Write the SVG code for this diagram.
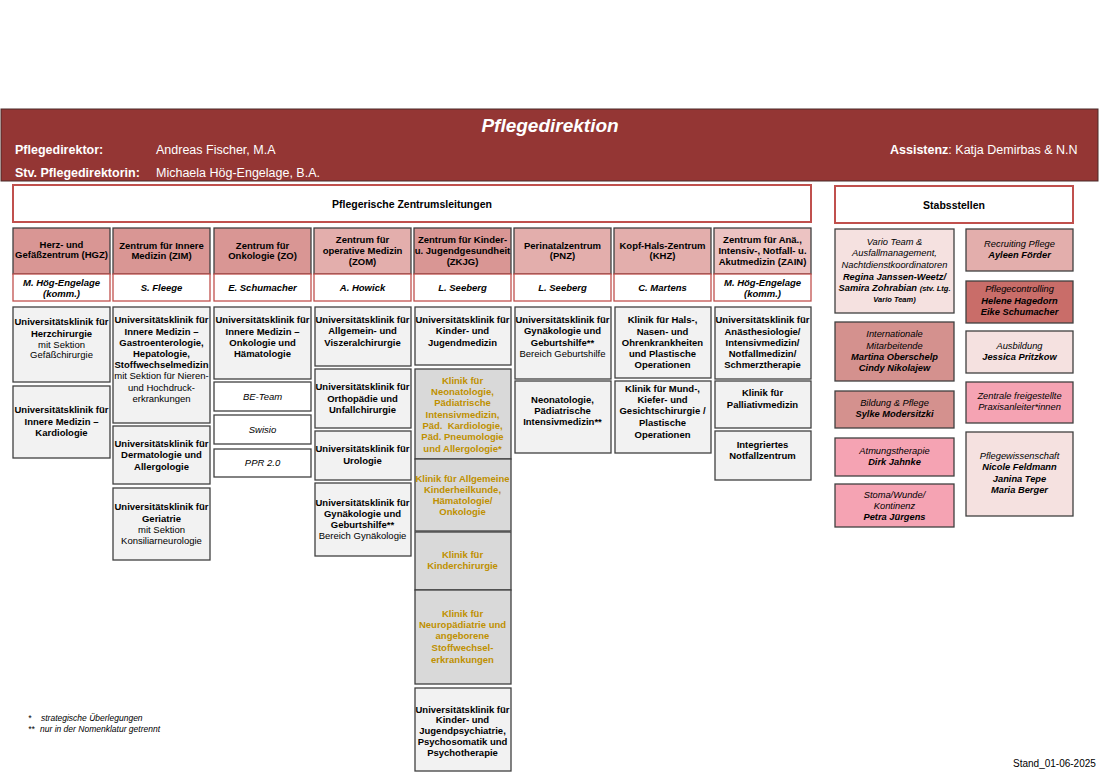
<svg xmlns="http://www.w3.org/2000/svg" width="1100" height="778" viewBox="0 0 1100 778">
<style>
text{font-family:'Liberation Sans',Arial,sans-serif;font-size:9.5px;text-anchor:middle;fill:#000}
.b{font-weight:bold}
.i{font-style:italic}
.bi{font-weight:bold;font-style:italic}
.g{fill:#bf9000;font-weight:bold}
.box{fill:#f2f2f2;stroke:#404040;stroke-width:1.3}
.gbox{fill:#d9d9d9;stroke:#404040;stroke-width:1.3}
.wbox{fill:#fff;stroke:#404040;stroke-width:1.3}
.hd1{fill:#d99694;stroke:#404040;stroke-width:1.3}
.hd2{fill:#e3aeac;stroke:#404040;stroke-width:1.3}
.hd3{fill:#ecc3c2;stroke:#404040;stroke-width:1.3}
.nm{fill:#fff;stroke:#c0504d;stroke-width:1.3}
.ttl{fill:#fff;stroke:#c0504d;stroke-width:2}
.s1{fill:#f5e1e0;stroke:#404040;stroke-width:1.3}
.s2{fill:#d4918e;stroke:#404040;stroke-width:1.3}
.s3{fill:#f5a3b3;stroke:#404040;stroke-width:1.3}
.s4{fill:#e3aeac;stroke:#404040;stroke-width:1.3}
.s5{fill:#c96d69;stroke:#404040;stroke-width:1.3}
.st{font-size:9.3px}
.w{fill:#fff;font-size:12.5px;text-anchor:start}
.fn{font-size:8.5px;font-style:italic;text-anchor:start}
</style>

<g id="pflegedirektion">
<rect x="1" y="109" width="1097" height="72" fill="#943634" stroke="#4a2a28" stroke-width="1"/>
<text x="550" y="132" style="fill:#fff;font-size:19px;font-weight:bold;font-style:italic">Pflegedirektion</text>
<text class="w b" x="15" y="154">Pflegedirektor:</text>
<text class="w" x="156" y="154">Andreas Fischer, M.A</text>
<text class="w b" x="15" y="177">Stv. Pflegedirektorin:</text>
<text class="w" x="156" y="177">Michaela Hög-Engelage, B.A.</text>
<text class="w" x="890" y="154"><tspan font-weight="bold">Assistenz</tspan>: Katja Demirbas &amp; N.N</text>
</g>

<g id="zentrumsleitungen">
<rect class="ttl" x="13" y="185" width="798" height="37"/>
<text class="b" x="412" y="208" style="font-size:10.5px">Pflegerische Zentrumsleitungen</text>
</g>

<g id="stabsstellen">
<rect class="ttl" x="835" y="186" width="238" height="37"/>
<text class="b" x="954" y="209" style="font-size:10.5px">Stabsstellen</text>
</g>

<g id="connectors"></g>

<!-- Column 1 HGZ -->
<g id="hgz">
<rect class="hd1" x="13" y="228" width="97" height="46"/>
<text class="b" x="61.5" y="247.7">Herz- und</text>
<text class="b" x="61.5" y="258.4">Gefäßzentrum (HGZ)</text>
<rect class="nm" x="13" y="274" width="97" height="27"/>
<text class="bi" x="61.5" y="285.7">M. Hög-Engelage</text>
<text class="bi" x="61.5" y="296.7">(komm.)</text>
</g>
<g id="hgz-herzchirurgie">
<rect class="box" x="13" y="307" width="97" height="75"/>
<text class="b" x="61.5" y="325.1">Universitätsklinik für</text>
<text class="b" x="61.5" y="336.7">Herzchirurgie</text>
<text x="61.5" y="347.7">mit Sektion</text>
<text x="61.5" y="358.4">Gefäßchirurgie</text>
</g>
<g id="hgz-kardiologie">
<rect class="box" x="13" y="386" width="97" height="72"/>
<text class="b" x="61.5" y="413.4">Universitätsklinik für</text>
<text class="b" x="61.5" y="425.1">Innere Medizin –</text>
<text class="b" x="61.5" y="436.1">Kardiologie</text>
</g>

<!-- Column 2 ZIM -->
<g id="zim">
<rect class="hd1" x="113" y="228" width="97" height="46"/>
<text class="b" x="161.5" y="249.1">Zentrum für Innere</text>
<text class="b" x="161.5" y="259.1">Medizin (ZIM)</text>
<rect class="nm" x="113" y="274" width="97" height="27"/>
<text class="bi" x="161.5" y="291.1">S. Fleege</text>
</g>
<g id="zim-innere">
<rect class="box" x="113" y="307" width="97" height="116"/>
<text class="b" x="161.5" y="323.4">Universitätsklinik für</text>
<text class="b" x="161.5" y="335.1">Innere Medizin –</text>
<text class="b" x="161.5" y="346.1">Gastroenterologie,</text>
<text class="b" x="161.5" y="357.4">Hepatologie,</text>
<text class="b" x="161.5" y="368.4">Stoffwechselmedizin</text>
<text x="161.5" y="379.4">mit Sektion für Nieren-</text>
<text x="161.5" y="390.7">und Hochdruck-</text>
<text x="161.5" y="402.4">erkrankungen</text>
</g>
<g id="zim-dermatologie">
<rect class="box" x="113" y="426" width="97" height="58"/>
<text class="b" x="161.5" y="447.4">Universitätsklinik für</text>
<text class="b" x="161.5" y="458.4">Dermatologie und</text>
<text class="b" x="161.5" y="470.1">Allergologie</text>
</g>
<g id="zim-geriatrie">
<rect class="box" x="113" y="488" width="97" height="72"/>
<text class="b" x="161.5" y="510.1">Universitätsklinik für</text>
<text class="b" x="161.5" y="521.7">Geriatrie</text>
<text x="161.5" y="532.7">mit Sektion</text>
<text x="161.5" y="544.1">Konsiliarneurologie</text>
</g>

<!-- Column 3 ZO -->
<g id="zo">
<rect class="hd1" x="214" y="228" width="97" height="46"/>
<text class="b" x="262.5" y="249.1">Zentrum für</text>
<text class="b" x="262.5" y="259.1">Onkologie (ZO)</text>
<rect class="nm" x="214" y="274" width="97" height="27"/>
<text class="bi" x="262.5" y="291.1">E. Schumacher</text>
</g>
<g id="zo-onkologie">
<rect class="box" x="214" y="307" width="97" height="72"/>
<text class="b" x="262.5" y="323.4">Universitätsklinik für</text>
<text class="b" x="262.5" y="335.1">Innere Medizin –</text>
<text class="b" x="262.5" y="346.1">Onkologie und</text>
<text class="b" x="262.5" y="357.4">Hämatologie</text>
</g>
<g id="zo-beteam">
<rect class="wbox" x="214" y="382" width="97" height="29"/>
<text class="i" x="262.5" y="400.1">BE-Team</text>
</g>
<g id="zo-swisio">
<rect class="wbox" x="214" y="415" width="97" height="29"/>
<text class="i" x="262.5" y="432.7">Swisio</text>
</g>
<g id="zo-ppr">
<rect class="wbox" x="214" y="449" width="97" height="28"/>
<text class="i" x="262.5" y="466.1">PPR 2.0</text>
</g>

<!-- Column 4 ZOM -->
<g id="zom">
<rect class="hd2" x="314" y="228" width="97" height="46"/>
<text class="b" x="362.5" y="243.4">Zentrum für</text>
<text class="b" x="362.5" y="254.1">operative Medizin</text>
<text class="b" x="362.5" y="265.1">(ZOM)</text>
<rect class="nm" x="314" y="274" width="97" height="27"/>
<text class="bi" x="362.5" y="291.1">A. Howick</text>
</g>
<g id="zom-allgemein">
<rect class="box" x="315" y="307" width="96" height="59"/>
<text class="b" x="362.5" y="323.4">Universitätsklinik für</text>
<text class="b" x="362.5" y="334.1">Allgemein- und</text>
<text class="b" x="362.5" y="345.7">Viszeralchirurgie</text>
</g>
<g id="zom-orthopaedie">
<rect class="box" x="315" y="369" width="96" height="59"/>
<text class="b" x="362.5" y="390.1">Universitätsklinik für</text>
<text class="b" x="362.5" y="401.7">Orthopädie und</text>
<text class="b" x="362.5" y="412.7">Unfallchirurgie</text>
</g>
<g id="zom-urologie">
<rect class="box" x="315" y="431" width="96" height="49"/>
<text class="b" x="362.5" y="452.4">Universitätsklinik für</text>
<text class="b" x="362.5" y="464.1">Urologie</text>
</g>
<g id="zom-gynaekologie">
<rect class="box" x="315" y="483" width="96" height="73"/>
<text class="b" x="362.5" y="505.7">Universitätsklinik für</text>
<text class="b" x="362.5" y="516.7">Gynäkologie und</text>
<text class="b" x="362.5" y="528.4">Geburtshilfe**</text>
<text x="362.5" y="539.4">Bereich Gynäkologie</text>
</g>

<!-- Column 5 ZKJG -->
<g id="zkjg">
<rect class="hd1" x="414" y="228" width="97" height="46"/>
<text class="b" x="462.5" y="243.4">Zentrum für Kinder-</text>
<text class="b" x="462.5" y="254.1">u. Jugendgesundheit</text>
<text class="b" x="462.5" y="265.1">(ZKJG)</text>
<rect class="nm" x="414" y="274" width="97" height="27"/>
<text class="bi" x="462.5" y="291.1">L. Seeberg</text>
</g>
<g id="zkjg-kinder">
<rect class="box" x="415" y="307" width="96" height="58"/>
<text class="b" x="462.5" y="323.4">Universitätsklinik für</text>
<text class="b" x="462.5" y="334.1">Kinder- und</text>
<text class="b" x="462.5" y="345.7">Jugendmedizin</text>
</g>
<g id="zkjg-neonatologie">
<rect class="gbox" x="415" y="369" width="96" height="90"/>
<text class="g" x="462.5" y="384.1">Klinik für</text>
<text class="g" x="462.5" y="395.1">Neonatologie,</text>
<text class="g" x="462.5" y="406.1">Pädiatrische</text>
<text class="g" x="462.5" y="417.7">Intensivmedizin,</text>
<text class="g" x="462.5" y="429.1" xml:space="preserve">Päd.  Kardiologie,</text>
<text class="g" x="462.5" y="440.1">Päd. Pneumologie</text>
<text class="g" x="462.5" y="451.7">und Allergologie*</text>
</g>
<g id="zkjg-allgemeine">
<rect class="gbox" x="415" y="459" width="96" height="72"/>
<text class="g" x="462.5" y="482.4">Klinik für Allgemeine</text>
<text class="g" x="462.5" y="492.7">Kinderheilkunde,</text>
<text class="g" x="462.5" y="504.4">Hämatologie/</text>
<text class="g" x="462.5" y="515.1">Onkologie</text>
</g>
<g id="zkjg-kinderchirurgie">
<rect class="gbox" x="415" y="532" width="96" height="58"/>
<text class="g" x="462.5" y="558.4">Klinik für</text>
<text class="g" x="462.5" y="569.4">Kinderchirurgie</text>
</g>
<g id="zkjg-neuropaediatrie">
<rect class="gbox" x="415" y="590" width="96" height="94"/>
<text class="g" x="462.5" y="617.4">Klinik für</text>
<text class="g" x="462.5" y="628.4">Neuropädiatrie und</text>
<text class="g" x="462.5" y="639.1">angeborene</text>
<text class="g" x="462.5" y="651.1">Stoffwechsel-</text>
<text class="g" x="462.5" y="662.7">erkrankungen</text>
</g>
<g id="zkjg-psychiatrie">
<rect class="box" x="415" y="688" width="96" height="83"/>
<text class="b" x="462.5" y="712.7">Universitätsklinik für</text>
<text class="b" x="462.5" y="723.4">Kinder- und</text>
<text class="b" x="462.5" y="734.4">Jugendpsychiatrie,</text>
<text class="b" x="462.5" y="745.1">Psychosomatik und</text>
<text class="b" x="462.5" y="755.7">Psychotherapie</text>
</g>

<!-- Column 6 PNZ -->
<g id="pnz">
<rect class="hd2" x="514" y="228" width="97" height="46"/>
<text class="b" x="562.5" y="249.1">Perinatalzentrum</text>
<text class="b" x="562.5" y="259.1">(PNZ)</text>
<rect class="nm" x="514" y="274" width="97" height="27"/>
<text class="bi" x="562.5" y="291.1">L. Seeberg</text>
</g>
<g id="pnz-gynaekologie">
<rect class="box" x="515" y="307" width="96" height="72"/>
<text class="b" x="562.5" y="323.4">Universitätsklinik für</text>
<text class="b" x="562.5" y="334.1">Gynäkologie und</text>
<text class="b" x="562.5" y="345.7">Geburtshilfe**</text>
<text x="562.5" y="356.7">Bereich Geburtshilfe</text>
</g>
<g id="pnz-neonatologie">
<rect class="box" x="515" y="381" width="96" height="72"/>
<text class="b" x="562.5" y="402.7">Neonatologie,</text>
<text class="b" x="562.5" y="414.1">Pädiatrische</text>
<text class="b" x="562.5" y="425.1">Intensivmedizin**</text>
</g>

<!-- Column 7 KHZ -->
<g id="khz">
<rect class="hd2" x="614" y="228" width="97" height="46"/>
<text class="b" x="662.5" y="249.1">Kopf-Hals-Zentrum</text>
<text class="b" x="662.5" y="259.1">(KHZ)</text>
<rect class="nm" x="614" y="274" width="97" height="27"/>
<text class="bi" x="662.5" y="291.1">C. Martens</text>
</g>
<g id="khz-hno">
<rect class="box" x="615" y="307" width="96" height="71"/>
<text class="b" x="662.5" y="323.4">Klinik für Hals-,</text>
<text class="b" x="662.5" y="335.1">Nasen- und</text>
<text class="b" x="662.5" y="346.1">Ohrenkrankheiten</text>
<text class="b" x="662.5" y="356.7">und Plastische</text>
<text class="b" x="662.5" y="368.4">Operationen</text>
</g>
<g id="khz-mkg">
<rect class="box" x="615" y="381" width="96" height="72"/>
<text class="b" x="662.5" y="391.7">Klinik für Mund-,</text>
<text class="b" x="662.5" y="402.7">Kiefer- und</text>
<text class="b" x="662.5" y="414.4">Gesichtschirurgie /</text>
<text class="b" x="662.5" y="426.1">Plastische</text>
<text class="b" x="662.5" y="437.7">Operationen</text>
</g>

<!-- Column 8 ZAIN -->
<g id="zain">
<rect class="hd3" x="714" y="228" width="97" height="46"/>
<text class="b" x="762.5" y="243.4">Zentrum für Anä.,</text>
<text class="b" x="762.5" y="254.1">Intensiv-, Notfall- u.</text>
<text class="b" x="762.5" y="265.1">Akutmedizin (ZAIN)</text>
<rect class="nm" x="714" y="274" width="97" height="27"/>
<text class="bi" x="762.5" y="285.7">M. Hög-Engelage</text>
<text class="bi" x="762.5" y="296.7">(komm.)</text>
</g>
<g id="zain-anaesthesiologie">
<rect class="box" x="715" y="307" width="96" height="72"/>
<text class="b" x="762.5" y="323.4">Universitätsklinik für</text>
<text class="b" x="762.5" y="335.1">Anästhesiologie/</text>
<text class="b" x="762.5" y="346.1">Intensivmedizin/</text>
<text class="b" x="762.5" y="356.7">Notfallmedizin/</text>
<text class="b" x="762.5" y="368.4">Schmerztherapie</text>
</g>
<g id="zain-palliativ">
<rect class="box" x="715" y="381" width="96" height="47"/>
<text class="b" x="762.5" y="396.1">Klinik für</text>
<text class="b" x="762.5" y="407.7">Palliativmedizin</text>
</g>
<g id="zain-notfall">
<rect class="box" x="715" y="431" width="96" height="49"/>
<text class="b" x="762.5" y="448.4">Integriertes</text>
<text class="b" x="762.5" y="459.4">Notfallzentrum</text>
</g>

<!-- Stabsstellen -->
<g id="vario">
<rect class="s1" x="835" y="229" width="119" height="84"/>
<text class="i st" x="894.5" y="245.4">Vario Team &amp;</text>
<text class="i st" x="894.5" y="256.4">Ausfallmanagement,</text>
<text class="i st" x="894.5" y="268.4">Nachtdienstkoordinatoren</text>
<text class="bi st" x="894.5" y="280.4">Regina Janssen-Weetz/</text>
<text class="bi st" x="894.5" y="291.4">Samira Zohrabian <tspan font-size="7.5px">(stv. Ltg.</tspan></text>
<text class="bi" x="894.5" y="302" style="font-size:7.5px">Vario Team)</text>
</g>
<g id="international">
<rect class="s2" x="835" y="322" width="119" height="59"/>
<text class="i st" x="894.5" y="337.4">Internationale</text>
<text class="i st" x="894.5" y="349.4">Mitarbeitende</text>
<text class="bi st" x="894.5" y="360.4">Martina Oberschelp</text>
<text class="bi st" x="894.5" y="371.4">Cindy Nikolajew</text>
</g>
<g id="bildung">
<rect class="s2" x="835" y="391" width="119" height="37"/>
<text class="i st" x="894.5" y="406.4">Bildung &amp; Pflege</text>
<text class="bi st" x="894.5" y="417.4">Sylke Modersitzki</text>
</g>
<g id="atmung">
<rect class="s3" x="835" y="438" width="119" height="38"/>
<text class="i st" x="894.5" y="454.4">Atmungstherapie</text>
<text class="bi st" x="894.5" y="465.4">Dirk Jahnke</text>
</g>
<g id="stoma">
<rect class="s3" x="835" y="484" width="119" height="43"/>
<text class="i st" x="894.5" y="498.4">Stoma/Wunde/</text>
<text class="i st" x="894.5" y="509.4">Kontinenz</text>
<text class="bi st" x="894.5" y="520.4">Petra Jürgens</text>
</g>
<g id="recruiting">
<rect class="s4" x="966" y="229" width="107" height="42"/>
<text class="i st" x="1019.5" y="247.4">Recruiting Pflege</text>
<text class="bi st" x="1019.5" y="258.4">Ayleen Förder</text>
</g>
<g id="controlling">
<rect class="s5" x="966" y="281" width="107" height="42"/>
<text class="i st" x="1019.5" y="292.4">Pflegecontrolling</text>
<text class="bi st" x="1019.5" y="304.4">Helene Hagedorn</text>
<text class="bi st" x="1019.5" y="315.4">Eike Schumacher</text>
</g>
<g id="ausbildung">
<rect class="s1" x="966" y="331" width="107" height="42"/>
<text class="i st" x="1019.5" y="349.4">Ausbildung</text>
<text class="bi st" x="1019.5" y="360.4">Jessica Pritzkow</text>
</g>
<g id="praxisanleiter">
<rect class="s3" x="966" y="382" width="107" height="41"/>
<text class="i st" x="1019.5" y="399.4">Zentrale freigestellte</text>
<text class="i st" x="1019.5" y="410.4">Praxisanleiter*innen</text>
</g>
<g id="pflegewissenschaft">
<rect class="s1" x="966" y="432" width="107" height="84"/>
<text class="i st" x="1019.5" y="459.4">Pflegewissenschaft</text>
<text class="bi st" x="1019.5" y="470.4">Nicole Feldmann</text>
<text class="bi st" x="1019.5" y="482.4">Janina Tepe</text>
<text class="bi st" x="1019.5" y="493.4">Maria Berger</text>
</g>

<g id="legende">
<text class="fn" x="28" y="721">*</text>
<text class="fn" x="41" y="721">strategische Überlegungen</text>
<text class="fn" x="28" y="732">**</text>
<text class="fn" x="40" y="732">nur in der Nomenklatur getrennt</text>
<text x="1013" y="767" style="font-size:10px;text-anchor:start">Stand_01-06-2025</text>
</g>
</svg>
